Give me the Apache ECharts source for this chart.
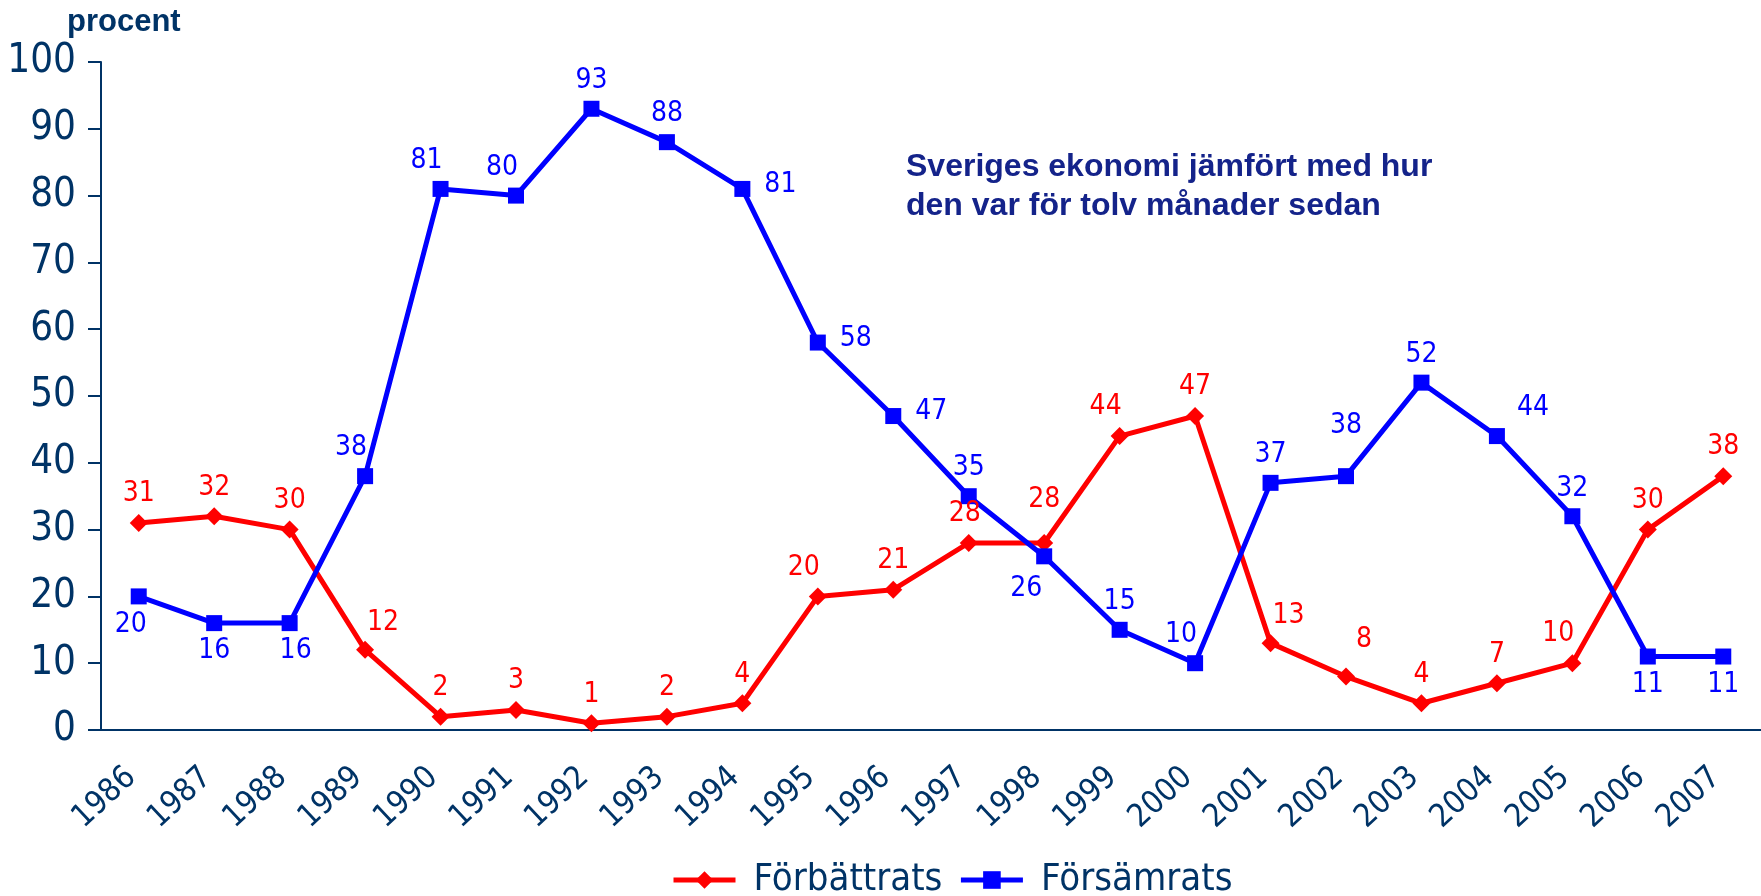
<!DOCTYPE html>
<html>
<head>
<meta charset="utf-8">
<script src="https://cdn.jsdelivr.net/npm/echarts@6/dist/echarts.min.js"></script>
<style>
  html, body { margin: 0; padding: 0; background: #fff; }
  #main { width: 1761px; height: 896px; }
</style>
</head>
<body>
<div id="main"></div>
<script>
// data
const years = ["1986", "1987", "1988", "1989", "1990", "1991", "1992", "1993", "1994", "1995", "1996",
  "1997", "1998", "1999", "2000", "2001", "2002", "2003", "2004", "2005", "2006", "2007"];
const battre = [31, 32, 30, 12, 2, 3, 1, 2, 4, 20, 21, 28, 28, 44, 47, 13, 8, 4, 7, 10, 30, 38];
const samre = [20, 16, 16, 38, 81, 80, 93, 88, 81, 58, 47, 35, 26, 15, 10, 37, 38, 52, 44, 32, 11, 11];

// where each value label sits relative to its point
const battreLabelAt = ["t", "t", "t", "tr", "t", "t", "t", "t", "t", "tl", "t", "tl2", "tt", "tl", "t",
  "tr", "tr3", "t", "t", "tl", "t", "t"];
const samreLabelAt = ["bl", "b", "br", "tl", "tl", "tl", "t", "t", "r", "r", "r", "t", "bl2", "t", "tl",
  "t", "tt2", "t", "tr2", "t", "b", "b"];

const NAVY = "#003366";
const NARROW = "'Liberation Sans Narrow', 'DejaVu Sans Condensed', 'Arial Narrow', sans-serif";

function placeLabel(code) {
  switch (code) {
    case "t": return { position: "top", offset: [0, 0] };
    case "tt": return { position: "top", offset: [0, -14] };
    case "tt2": return { position: "top", offset: [0, -22] };
    case "tl": return { position: "top", offset: [-14, 0] };
    case "tl2": return { position: "top", offset: [-4, 0] };
    case "tr": return { position: "top", offset: [18, 2] };
    case "tr2": return { position: "top", offset: [36, 0] };
    case "tr3": return { position: "top", offset: [18, -8] };
    case "b": return { position: "bottom", offset: [0, 0] };
    case "bl": return { position: "bottom", offset: [-8, 0] };
    case "bl2": return { position: "bottom", offset: [-18, 4] };
    case "br": return { position: "bottom", offset: [6, 0] };
    case "r": return { position: "right", offset: [8, -4] };
  }
  return { position: "top" };
}

function withLabels(values, codes) {
  return values.map((v, i) => ({ value: v, label: placeLabel(codes[i]) }));
}

const chart = echarts.init(document.getElementById("main"));

chart.setOption({
  animation: false,
  title: {
    text: "procent",
    left: 62,
    top: 2,
    textStyle: { fontFamily: "Liberation Sans, Arial, sans-serif", fontWeight: "bold", fontSize: 31, color: NAVY }
  },
  graphic: [{
    type: "text",
    left: 906,
    top: 148,
    style: {
      text: "Sveriges ekonomi jämfört med hur\nden var för tolv månader sedan",
      font: "bold 32px 'Liberation Sans', Arial, sans-serif",
      lineHeight: 39,
      fill: "#14238a"
    }
  }],
  legend: {
    left: 666,
    top: 856,
    itemWidth: 62,
    itemHeight: 22,
    itemGap: 16,
    textStyle: { fontFamily: NARROW, fontSize: 38, color: NAVY, padding: [0, 0, 0, 13] },
    lineStyle: { width: 5 },
    data: ["Förbättrats", "Försämrats"]
  },
  grid: { left: 101, right: 0, top: 62, bottom: 166, containLabel: false },
  xAxis: {
    type: "category",
    data: years,
    boundaryGap: true,
    axisLine: { lineStyle: { color: NAVY, width: 2 } },
    axisTick: { show: false },
    axisLabel: {
      rotate: 43,
      margin: 36,
      padding: [0, 10, 0, 0],
      fontFamily: NARROW,
      fontSize: 32,
      color: NAVY
    }
  },
  yAxis: {
    type: "value",
    min: 0,
    max: 100,
    interval: 10,
    axisLine: { show: true, lineStyle: { color: NAVY, width: 2 } },
    axisTick: { show: true, length: 13, lineStyle: { color: NAVY, width: 2 } },
    splitLine: { show: false },
    axisLabel: { margin: 25, fontFamily: NARROW, fontSize: 40, color: NAVY }
  },
  series: [
    {
      name: "Förbättrats",
      type: "line",
      data: withLabels(battre, battreLabelAt),
      symbol: "diamond",
      symbolSize: 18,
      lineStyle: { color: "#ff0000", width: 5 },
      itemStyle: { color: "#ff0000" },
      label: { show: true, fontFamily: NARROW, fontSize: 28, color: "#ff0000", distance: 6 }
    },
    {
      name: "Försämrats",
      type: "line",
      data: withLabels(samre, samreLabelAt),
      symbol: "rect",
      symbolSize: 16,
      lineStyle: { color: "#0000ff", width: 5 },
      itemStyle: { color: "#0000ff" },
      label: { show: true, fontFamily: NARROW, fontSize: 28, color: "#0000ff", distance: 6 }
    }
  ]
});
</script>
</body>
</html>
